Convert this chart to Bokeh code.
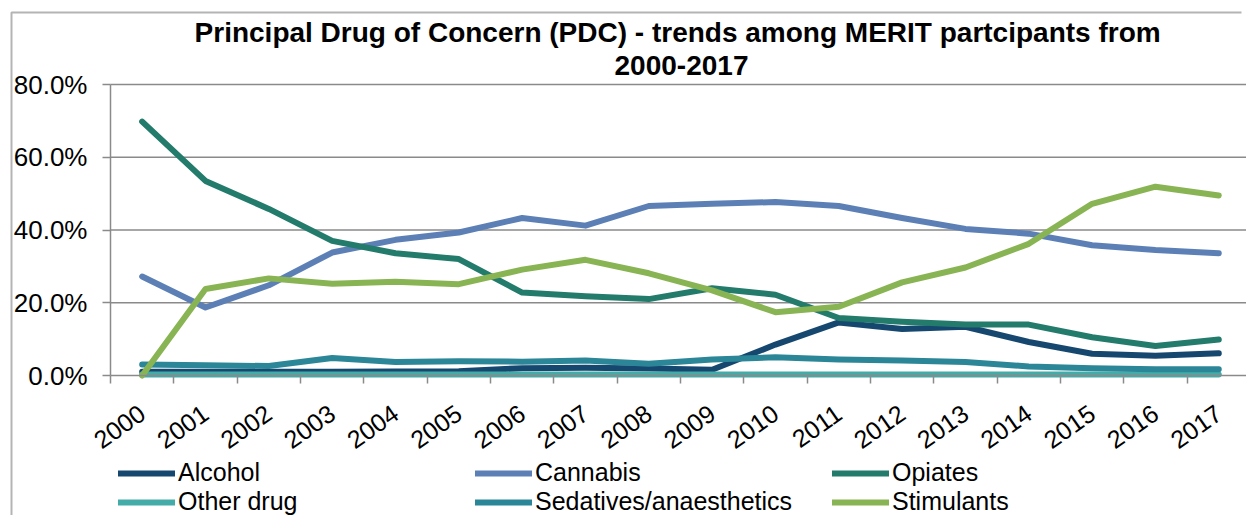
import math
from bokeh.plotting import figure
from bokeh.models import (Range1d, FixedTicker, PrintfTickFormatter, Legend,
                          LegendItem, ColumnDataSource, Label)
from bokeh.embed import file_html
from bokeh.resources import INLINE

# ---------------- data ----------------
years = [2000, 2001, 2002, 2003, 2004, 2005, 2006, 2007, 2008,
         2009, 2010, 2011, 2012, 2013, 2014, 2015, 2016, 2017]

alcohol = [1.0, 1.0, 1.0, 1.0, 1.1, 1.2, 2.0, 2.1, 1.9,
           1.6, 8.5, 14.6, 12.8, 13.4, 9.2, 6.0, 5.4, 6.1]
cannabis = [27.2, 18.7, 24.8, 33.8, 37.3, 39.3, 43.3, 41.2, 46.6,
            47.2, 47.7, 46.6, 43.3, 40.3, 39.0, 35.8, 34.5, 33.6]
opiates = [69.8, 53.5, 45.8, 37.0, 33.6, 32.0, 22.8, 21.8, 21.0,
           24.0, 22.2, 15.8, 14.8, 14.0, 14.0, 10.5, 8.1, 9.9]
other_drug = [0.3, 0.3, 0.3, 0.3, 0.3, 0.3, 0.3, 0.3, 0.3,
              0.3, 0.3, 0.3, 0.3, 0.3, 0.3, 0.3, 0.3, 0.3]
sedatives = [3.0, 2.8, 2.6, 4.8, 3.7, 3.9, 3.8, 4.1, 3.2,
             4.4, 5.0, 4.4, 4.1, 3.7, 2.5, 2.0, 1.7, 1.7]
stimulants = [0.0, 23.8, 26.7, 25.2, 25.8, 25.1, 29.1, 31.8, 28.1,
              23.4, 17.4, 18.9, 25.6, 29.7, 36.2, 47.2, 51.9, 49.5]

series_names = ["Alcohol", "Cannabis", "Opiates", "Other drug",
                "Sedatives/anaesthetics", "Stimulants"]
series_values = [alcohol, cannabis, opiates, other_drug, sedatives, stimulants]
series_colors = ["#16476F", "#5C80B6", "#237B6C", "#43ABA8", "#2B8697", "#89B453"]

y_ticks = [0, 20, 40, 60, 80]
title_line1 = "Principal Drug of Concern (PDC) - trends among MERIT  partcipants from"
title_line2 = "2000-2017"

# ---------------- layout constants (pixels) ----------------
FONT = "Liberation Sans"
W, H = 1246, 515
TOP_PX = 84                   # pixel row of the 80 % line
ZERO_PX = 375                 # pixel row of the 0 % line
AXIS_PX = 110                 # pixel column of the value axis
PX_PER_YEAR = 63.33
Y_MAX = 80
px_per_unit = (ZERO_PX - TOP_PX) / Y_MAX
y_start = -(H - ZERO_PX) / px_per_unit
y_end = Y_MAX + TOP_PX / px_per_unit
x_axis_pos = years[0] - 0.5
x_start = x_axis_pos - AXIS_PX / PX_PER_YEAR
x_end = x_start + W / PX_PER_YEAR


def px_to_x(px):
    return x_start + px / PX_PER_YEAR


def px_to_y(py):
    return Y_MAX + (TOP_PX - py) / px_per_unit


p = figure(width=W, height=H, output_backend="svg", toolbar_location=None,
           x_range=Range1d(x_start, x_end), y_range=Range1d(y_start, y_end),
           min_border_left=0, min_border_top=0, min_border_bottom=0,
           min_border_right=0, title=None)
p.outline_line_color = None
p.background_fill_color = "white"
p.border_fill_color = "white"

# chart border (left and top edges visible in the reference)
p.line(x=[px_to_x(11), px_to_x(11), px_to_x(1241)],
       y=[px_to_y(H + 5), px_to_y(12), px_to_y(12)],
       line_color="#b4b4b4", line_width=2)

# two-line centred title
for txt, base_px in ((title_line1, 32), (title_line2, 65)):
    p.add_layout(Label(x=px_to_x(681), y=px_to_y(base_px), text=txt,
                       text_align="center", text_baseline="alphabetic",
                       text_font=FONT, text_font_size="28px",
                       text_font_style="bold", text_color="black"))

# horizontal gridlines (from the value axis to the right edge)
p.xgrid.visible = False
p.ygrid.visible = False
grid_vals = y_ticks[1:]
p.segment(x0=[x_axis_pos] * len(grid_vals), x1=[x_end] * len(grid_vals),
          y0=grid_vals, y1=grid_vals, line_color="#8a8a8a", line_width=1.5)

# y axis pinned at the left category edge
yax = p.yaxis[0]
yax.fixed_location = x_axis_pos
yax.ticker = FixedTicker(ticks=y_ticks, minor_ticks=[])
yax.bounds = (0, Y_MAX)
yax.formatter = PrintfTickFormatter(format="%.1f%%")
yax.axis_line_color = "#8a8a8a"
yax.axis_line_width = 1.5
yax.major_tick_line_color = "#8a8a8a"
yax.major_tick_line_width = 1.5
yax.major_tick_out = 8
yax.major_tick_in = 0
yax.major_label_standoff = 15
yax.major_label_text_font = FONT
yax.major_label_text_font_size = "26px"
yax.major_label_text_color = "black"

# x axis pinned to the 0 % line
xax = p.xaxis[0]
xax.fixed_location = 0
xax.bounds = (x_axis_pos, x_end)
xax.ticker = FixedTicker(ticks=years, minor_ticks=[y - 0.5 for y in years])
xax.formatter = PrintfTickFormatter(format="%d")
xax.axis_line_color = "#8a8a8a"
xax.axis_line_width = 1.5
xax.major_tick_out = 0
xax.major_tick_in = 0
xax.minor_tick_line_color = "#8a8a8a"
xax.minor_tick_line_width = 1.5
xax.minor_tick_out = 8
xax.minor_tick_in = 0
xax.major_label_orientation = math.radians(35)
xax.major_label_standoff = 27
xax.major_label_text_font = FONT
xax.major_label_text_font_size = "25px"
xax.major_label_text_color = "black"

# lines
items = []
for name, vals, col in zip(series_names, series_values, series_colors):
    src = ColumnDataSource(dict(x=years, y=vals))
    r = p.line("x", "y", source=src, line_color=col, line_width=6,
               line_cap="round", line_join="round")
    items.append(LegendItem(label=name, renderers=[r]))

legend = Legend(items=items, location=(AXIS_PX + 8, -1), orientation="horizontal",
                ncols=3, glyph_width=57, glyph_height=24, label_height=24,
                label_standoff=3, label_width=297, spacing=0, padding=0,
                margin=0, border_line_color=None, background_fill_alpha=0,
                label_text_font=FONT, label_text_font_size="25px",
                label_text_color="black")
p.add_layout(legend)

open("out.html", "w").write(file_html(p, INLINE))
